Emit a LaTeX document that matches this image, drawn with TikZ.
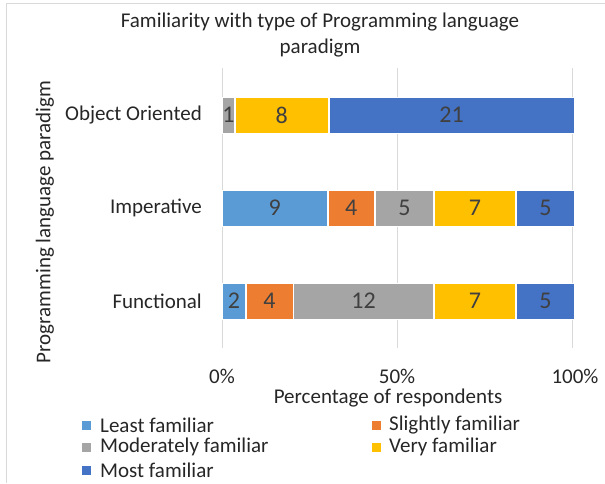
\documentclass[tikz,border=0pt]{standalone}
\usepackage{fontspec}
\setmainfont{Carlito}
\definecolor{cleast}{HTML}{5B9BD5}
\definecolor{cslight}{HTML}{ED7D31}
\definecolor{cmod}{HTML}{A5A5A5}
\definecolor{cvery}{HTML}{FFC000}
\definecolor{cmost}{HTML}{4472C4}
\definecolor{txt}{HTML}{262626}
\definecolor{dtxt}{HTML}{404040}
\definecolor{gridc}{HTML}{D9D9D9}
\begin{document}
\begin{tikzpicture}[x=1pt,y=-1pt,
  lab/.style={font=\fontsize{21}{26}\selectfont, text=txt, inner sep=0pt},
  seg/.style={draw=white, line width=0.6pt, minimum height=36pt, inner sep=0pt, anchor=west,
     font=\fontsize{24}{28}\selectfont, text=dtxt},
  gridline/.style={draw=gridc, line width=1pt},
  key/.style={minimum size=9pt, inner sep=0pt},
]
\useasboundingbox (0,0) rectangle (605,483);
\draw[gridc, line width=1pt] (6,483) -- (6,3) -- (605,3);
% title
\node[lab, align=center] (title) at (320,35) {Familiarity with type of Programming language\\paradigm};
% gridlines
\coordinate (g0t) at (222,68); \coordinate (g0b) at (222,348);
\coordinate (g1t) at (397,68); \coordinate (g1b) at (397,348);
\coordinate (g2t) at (572,68); \coordinate (g2b) at (572,348);
\draw[gridline] (g0t) -- (g0b);
\draw[gridline] (g1t) -- (g1b);
\draw[gridline] (g2t) -- (g2b);
% Object Oriented
\node[seg, fill=cmod, minimum width=11.67pt] (oo3) at (222,115) {1};
\node[seg, fill=cvery, minimum width=93.33pt] (oo4) at (oo3.east) {8};
\node[seg, fill=cmost, minimum width=245pt] (oo5) at (oo4.east) {21};
% Imperative
\node[seg, fill=cleast, minimum width=105pt] (im1) at (222,208) {9};
\node[seg, fill=cslight, minimum width=46.67pt] (im2) at (im1.east) {4};
\node[seg, fill=cmod, minimum width=58.33pt] (im3) at (im2.east) {5};
\node[seg, fill=cvery, minimum width=81.67pt] (im4) at (im3.east) {7};
\node[seg, fill=cmost, minimum width=58.33pt] (im5) at (im4.east) {5};
% Functional
\node[seg, fill=cleast, minimum width=23.33pt] (fu1) at (222,301) {2};
\node[seg, fill=cslight, minimum width=46.67pt] (fu2) at (fu1.east) {4};
\node[seg, fill=cmod, minimum width=140pt] (fu3) at (fu2.east) {12};
\node[seg, fill=cvery, minimum width=81.67pt] (fu4) at (fu3.east) {7};
\node[seg, fill=cmost, minimum width=58.33pt] (fu5) at (fu4.east) {5};
% category labels
\node[lab, anchor=east] (cOO) at (202,115) {Object Oriented};
\node[lab, anchor=east] (cIM) at (202,208) {Imperative};
\node[lab, anchor=east] (cFU) at (202,301) {Functional};
% ticks
\node[lab, anchor=base] (t0) at (222,383) {0\%};
\node[lab, anchor=base] (t50) at (397,383) {50\%};
\node[lab, anchor=base] (t100) at (575,383) {100\%};
% axis titles
\node[lab, anchor=base] (xtitle) at (388,403) {Percentage of respondents};
\node[lab, rotate=90] (ytitle) at (45,222) {Programming language paradigm};
% legend
\node[key, fill=cleast] (k1) at (86,425) {};
\node[lab, anchor=west] (l1) at (100,425) {Least familiar};
\node[key, fill=cslight] (k2) at (376,425) {};
\node[lab, anchor=west] (l2) at (389,425) {Slightly familiar};
\node[key, fill=cmod] (k3) at (86,447) {};
\node[lab, anchor=west] (l3) at (100,447) {Moderately familiar};
\node[key, fill=cvery] (k4) at (376,447) {};
\node[lab, anchor=west] (l4) at (389,447) {Very familiar};
\node[key, fill=cmost] (k5) at (86,470) {};
\node[lab, anchor=west] (l5) at (100,470) {Most familiar};
\end{tikzpicture}
\end{document}
